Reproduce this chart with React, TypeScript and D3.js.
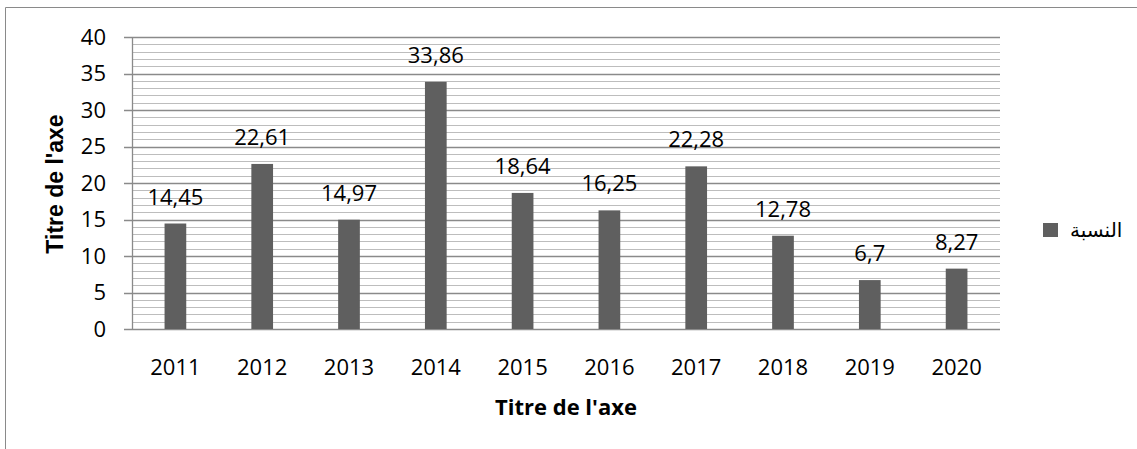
import { useEffect, useRef } from 'react'
import * as d3 from 'd3'

const years = ['2011', '2012', '2013', '2014', '2015', '2016', '2017', '2018', '2019', '2020']
const values = [14.45, 22.61, 14.97, 33.86, 18.64, 16.25, 22.28, 12.78, 6.7, 8.27]
const yTicks = [0, 5, 10, 15, 20, 25, 30, 35, 40]
const seriesName = 'النسبة'
const axisTitle = "Titre de l'axe"

const W = 1137, H = 449
const m = { top: 37, right: 137, bottom: 120, left: 132 }
const FONT = "'Open Sans', sans-serif"

export default function App() {
  const svgRef = useRef<SVGSVGElement>(null)

  useEffect(() => {
    if (!svgRef.current) return
    const svg = d3.select(svgRef.current)
    svg.selectAll('*').remove()

    const x = d3.scaleBand().domain(years).range([m.left, W - m.right]).paddingInner(0.75).paddingOuter(0.375)
    const y = d3.scaleLinear().domain([0, 40]).range([H - m.bottom, m.top])

    // outer chart frame
    svg.append('path').attr('d', `M5.5,${H} L5.5,7.5 L${W},7.5`)
      .attr('fill', 'none').attr('stroke', '#8a8a8a').attr('stroke-width', 1)

    // minor gridlines
    const minor = d3.range(0, 41).filter(v => v % 5 !== 0)
    svg.append('g').selectAll('line').data(minor).join('line')
      .attr('x1', m.left).attr('x2', W - m.right)
      .attr('y1', d => Math.round(y(d)) + 0.5).attr('y2', d => Math.round(y(d)) + 0.5)
      .attr('stroke', '#bdbdbd').attr('stroke-width', 1.2)

    // major gridlines
    svg.append('g').selectAll('line').data(yTicks).join('line')
      .attr('x1', m.left - 8).attr('x2', W - m.right)
      .attr('y1', d => Math.round(y(d)) + 0.5).attr('y2', d => Math.round(y(d)) + 0.5)
      .attr('stroke', '#8a8a8a').attr('stroke-width', 1.3)

    // y axis line
    svg.append('line').attr('x1', m.left + 0.5).attr('x2', m.left + 0.5)
      .attr('y1', y(40)).attr('y2', y(0)).attr('stroke', '#8a8a8a').attr('stroke-width', 1.3)

    // bars
    svg.append('g').selectAll('rect').data(values).join('rect')
      .attr('x', (_, i) => x(years[i])!).attr('width', x.bandwidth())
      .attr('y', d => y(d)).attr('height', d => y(0) - y(d))
      .attr('fill', '#5f5f5f')

    // data labels
    svg.append('g').selectAll('text').data(values).join('text')
      .attr('x', (_, i) => x(years[i])! + x.bandwidth() / 2)
      .attr('y', d => y(d) - 19)
      .attr('text-anchor', 'middle').attr('font-family', FONT).attr('font-size', 22).attr('fill', '#000')
      .text(d => String(d).replace('.', ','))

    // y tick labels
    svg.append('g').selectAll('text').data(yTicks).join('text')
      .attr('x', 106).attr('y', d => y(d)).attr('dy', '0.35em')
      .attr('text-anchor', 'end').attr('font-family', FONT).attr('font-size', 22).attr('fill', '#000')
      .text(d => d)

    // x tick labels
    svg.append('g').selectAll('text').data(years).join('text')
      .attr('x', d => x(d)! + x.bandwidth() / 2).attr('y', 367).attr('dy', '0.35em')
      .attr('text-anchor', 'middle').attr('font-family', FONT).attr('font-size', 22).attr('fill', '#000')
      .text(d => d)

    // axis titles
    svg.append('text').attr('x', 566).attr('y', 407).attr('dy', '0.35em')
      .attr('text-anchor', 'middle').attr('font-family', FONT).attr('font-weight', 'bold')
      .attr('font-size', 22).text(axisTitle)
    svg.append('text').attr('transform', 'translate(55,184) rotate(-90)').attr('dy', '0.35em')
      .attr('text-anchor', 'middle').attr('font-family', "'Liberation Sans', Arial, sans-serif")
      .attr('font-weight', 'bold').attr('font-size', 23).text(axisTitle)

    // legend
    svg.append('rect').attr('x', 1043).attr('y', 223).attr('width', 15).attr('height', 14).attr('fill', '#5f5f5f')
    svg.append('text').attr('x', 1070).attr('y', 230).attr('dy', '0.35em')
      .attr('font-family', "'DejaVu Sans', sans-serif").attr('font-size', 20).attr('direction', 'rtl')
      .attr('text-anchor', 'end').text(seriesName)
  }, [])

  return (
    <svg ref={svgRef} width={W} height={H} viewBox={`0 0 ${W} ${H}`}
      style={{ position: 'absolute', left: 0, top: 0, background: '#fff' }} />
  )
}
